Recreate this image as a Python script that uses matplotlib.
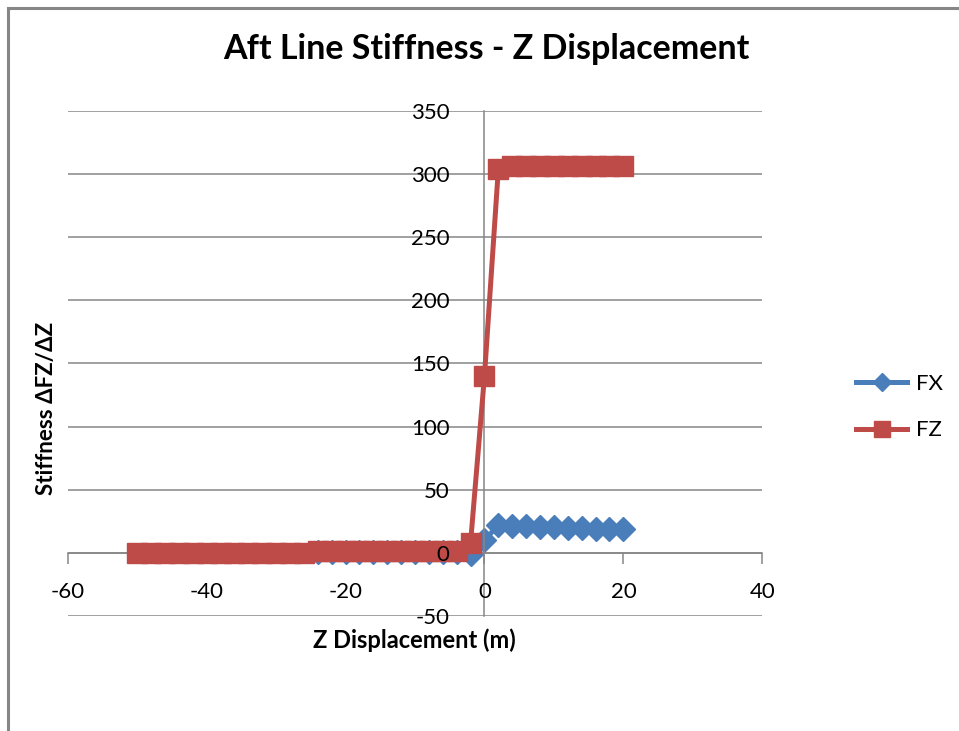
import matplotlib
matplotlib.use("Agg")
import matplotlib.pyplot as plt
from matplotlib.lines import Line2D
import numpy as np

plt.rcParams["axes.unicode_minus"] = False

# ── Data ──────────────────────────────────────────────────────────────────────
z_fz = np.arange(-50, 21, 2)
fz = [0.0] * 13 + [1.2] * 11 + [8.0, 140.0, 304.0] + [306.5] * 9

z_fx = np.arange(-24, 21, 2)
fx = [1.0] * 11 + [-1.0, 10.0, 22.0, 21.5, 21.0, 20.6, 20.2, 19.8, 19.4, 19.0, 18.7, 18.5]

x_ticks = [-60, -40, -20, 0, 20, 40]
y_ticks = [-50, 0, 50, 100, 150, 200, 250, 300, 350]

BLUE = "#4A7EBB"
RED = "#BE4B48"
GRID = "#868686"
FONT = ["Lato", "DejaVu Sans"]

# ── Figure ────────────────────────────────────────────────────────────────────
W, H = 959, 731
fig = plt.figure(figsize=(W / 100, H / 100), dpi=100)
fig.patch.set_facecolor("white")

# chart frame (left + top edge)
fig.add_artist(Line2D([8 / W, 8 / W], [0, 1 - 8 / H], color=GRID, lw=2.2,
                      transform=fig.transFigure))
fig.add_artist(Line2D([8 / W, 1], [1 - 8 / H, 1 - 8 / H], color=GRID, lw=2.2,
                      transform=fig.transFigure))

pos = [67.7 / W, (H - 616) / H, 694.6 / W, 505.3 / H]
ax = fig.add_axes(pos)
ax.set_xlim(-60, 40)
ax.set_ylim(-50, 350)
ax.set_axisbelow(True)
ax.patch.set_visible(False)

ax.plot(z_fx, fx, color=BLUE, lw=3.6, marker="D", ms=12.5,
        markeredgecolor=BLUE, zorder=2, label="FX")
ax.plot(z_fz, fz, color=RED, lw=3.6, marker="s", ms=15,
        markeredgecolor=RED, zorder=3, label="FZ")

ax.set_xticks(x_ticks)
ax.set_yticks(y_ticks)
ax.yaxis.grid(True, color=GRID, lw=1.1)
for s in ["top", "right"]:
    ax.spines[s].set_visible(False)
ax.spines["left"].set_position(("data", 0))
ax.spines["bottom"].set_position(("data", 0))
for s in ["left", "bottom"]:
    ax.spines[s].set_color(GRID)
    ax.spines[s].set_linewidth(1.1)
ax.tick_params(axis="x", direction="out", length=8, width=1.1, color=GRID,
               labelbottom=False)
ax.tick_params(axis="y", length=0, labelleft=False)

# tick labels on an overlay so they sit above the series
lab = fig.add_axes(pos, sharex=ax, sharey=ax, zorder=5)
lab.patch.set_visible(False)
for s in lab.spines.values():
    s.set_visible(False)
lab.spines["left"].set_position(("data", 0))
lab.spines["bottom"].set_position(("data", 0))
lab.tick_params(axis="x", length=8, width=0, pad=13, labelsize=16)
lab.tick_params(axis="y", length=0, pad=25, labelsize=16)
for t in lab.get_xticklabels() + lab.get_yticklabels():
    t.set_family(FONT)
    t.set_color("black")

# ── Text ──────────────────────────────────────────────────────────────────────
fig.text(486 / W, 1 - 49 / H, "Aft Line Stiffness - Z Displacement",
         ha="center", va="center", fontsize=24.5, fontweight="bold", family=FONT)
fig.text(47 / W, 1 - 408 / H, "Stiffness ΔFZ/ΔZ", rotation=90,
         ha="center", va="center", fontsize=16, fontweight="bold", family=FONT)
fig.text(414 / W, 1 - 640 / H, "Z Displacement (m)",
         ha="center", va="center", fontsize=17, fontweight="bold", family=FONT)

# ── Legend ────────────────────────────────────────────────────────────────────
handles = [
    Line2D([], [], color=BLUE, lw=3.6, marker="D", ms=9, markeredgecolor=BLUE),
    Line2D([], [], color=RED, lw=3.6, marker="s", ms=11, markeredgecolor=RED),
]
leg = fig.legend(handles, ["FX", "FZ"], loc="center left",
                 bbox_to_anchor=(836 / W, 1 - 407 / H), frameon=False,
                 prop={"family": FONT, "size": 16}, handlelength=2.3,
                 labelspacing=1.2, handletextpad=0.4)

fig.savefig("out.png", dpi=100, facecolor="white")
